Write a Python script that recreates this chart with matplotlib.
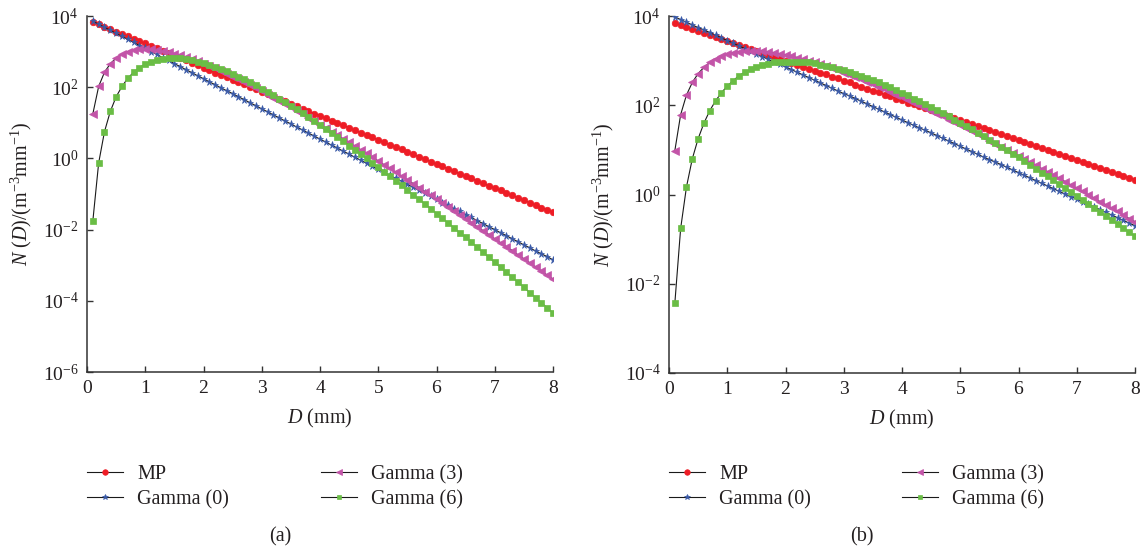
import numpy as np
import matplotlib
matplotlib.use("Agg")
import matplotlib.pyplot as plt

plt.rcParams['font.family'] = ['Liberation Serif', 'DejaVu Serif']
plt.rcParams['mathtext.fontset'] = 'custom'
plt.rcParams['mathtext.rm'] = 'Liberation Serif'
plt.rcParams['mathtext.it'] = 'Liberation Serif:italic'

# drop diameters (mm)
diam = [0.1, 0.2, 0.3, 0.4, 0.5, 0.6, 0.7, 0.8, 0.9, 1.0,
        1.1, 1.2, 1.3, 1.4, 1.5, 1.6, 1.7, 1.8, 1.9, 2.0,
        2.1, 2.2, 2.3, 2.4, 2.5, 2.6, 2.7, 2.8, 2.9, 3.0,
        3.1, 3.2, 3.3, 3.4, 3.5, 3.6, 3.7, 3.8, 3.9, 4.0,
        4.1, 4.2, 4.3, 4.4, 4.5, 4.6, 4.7, 4.8, 4.9, 5.0,
        5.1, 5.2, 5.3, 5.4, 5.5, 5.6, 5.7, 5.8, 5.9, 6.0,
        6.1, 6.2, 6.3, 6.4, 6.5, 6.6, 6.7, 6.8, 6.9, 7.0,
        7.1, 7.2, 7.3, 7.4, 7.5, 7.6, 7.7, 7.8, 7.9, 8.0]

# log10 N(D), panel (a)
mp_a = [3.84, 3.77, 3.70, 3.63, 3.56, 3.50, 3.43, 3.36, 3.29, 3.23,
        3.16, 3.09, 3.02, 2.96, 2.89, 2.82, 2.75, 2.69, 2.62, 2.55,
        2.48, 2.41, 2.35, 2.28, 2.21, 2.14, 2.08, 2.01, 1.94, 1.87,
        1.81, 1.74, 1.67, 1.60, 1.54, 1.47, 1.40, 1.33, 1.26, 1.20,
        1.13, 1.06, 0.99, 0.93, 0.86, 0.79, 0.72, 0.66, 0.59, 0.52,
        0.45, 0.39, 0.32, 0.25, 0.18, 0.11, 0.05, -0.02, -0.09, -0.16,
        -0.22, -0.29, -0.36, -0.43, -0.50, -0.56, -0.63, -0.70, -0.77, -0.83,
        -0.90, -0.97, -1.04, -1.10, -1.17, -1.24, -1.31, -1.38, -1.44, -1.51]
g0_a = [3.85, 3.77, 3.68, 3.60, 3.51, 3.43, 3.34, 3.26, 3.17, 3.09,
        3.00, 2.92, 2.83, 2.75, 2.66, 2.58, 2.49, 2.41, 2.32, 2.24,
        2.15, 2.07, 1.98, 1.90, 1.82, 1.73, 1.65, 1.56, 1.48, 1.39,
        1.31, 1.22, 1.14, 1.05, 0.97, 0.88, 0.80, 0.71, 0.63, 0.54,
        0.46, 0.37, 0.29, 0.20, 0.12, 0.03, -0.05, -0.14, -0.22, -0.31,
        -0.39, -0.48, -0.56, -0.64, -0.73, -0.81, -0.90, -0.98, -1.07, -1.15,
        -1.24, -1.32, -1.41, -1.49, -1.58, -1.66, -1.75, -1.83, -1.92, -2.00,
        -2.09, -2.17, -2.26, -2.34, -2.43, -2.51, -2.60, -2.68, -2.76, -2.85]
g3_a = [1.25, 2.02, 2.42, 2.66, 2.82, 2.93, 3.00, 3.04, 3.06, 3.07,
        3.06, 3.05, 3.02, 2.98, 2.94, 2.90, 2.84, 2.79, 2.73, 2.66,
        2.60, 2.53, 2.45, 2.38, 2.30, 2.22, 2.14, 2.05, 1.97, 1.88,
        1.79, 1.70, 1.61, 1.52, 1.43, 1.33, 1.24, 1.14, 1.04, 0.95,
        0.85, 0.75, 0.65, 0.55, 0.45, 0.34, 0.24, 0.14, 0.03, -0.07,
        -0.18, -0.28, -0.39, -0.50, -0.60, -0.71, -0.82, -0.93, -1.04, -1.15,
        -1.26, -1.37, -1.48, -1.59, -1.70, -1.81, -1.92, -2.03, -2.14, -2.26,
        -2.37, -2.48, -2.59, -2.71, -2.82, -2.93, -3.05, -3.16, -3.28, -3.39]
g6_a = [-1.76, -0.13, 0.75, 1.32, 1.73, 2.02, 2.25, 2.42, 2.55, 2.65,
        2.72, 2.77, 2.80, 2.81, 2.82, 2.81, 2.79, 2.76, 2.72, 2.68,
        2.63, 2.57, 2.51, 2.45, 2.37, 2.30, 2.22, 2.14, 2.05, 1.96,
        1.87, 1.78, 1.68, 1.58, 1.48, 1.38, 1.27, 1.16, 1.05, 0.94,
        0.83, 0.71, 0.60, 0.48, 0.36, 0.24, 0.12, 0.00, -0.13, -0.25,
        -0.37, -0.50, -0.63, -0.76, -0.89, -1.02, -1.15, -1.28, -1.41, -1.55,
        -1.68, -1.82, -1.95, -2.09, -2.22, -2.36, -2.50, -2.64, -2.78, -2.92,
        -3.06, -3.20, -3.34, -3.48, -3.62, -3.77, -3.91, -4.05, -4.20, -4.34]

# log10 N(D), panel (b)
mp_b = [3.84, 3.80, 3.75, 3.71, 3.66, 3.62, 3.57, 3.53, 3.48, 3.44,
        3.40, 3.35, 3.31, 3.26, 3.22, 3.17, 3.13, 3.09, 3.04, 3.00,
        2.95, 2.91, 2.86, 2.82, 2.77, 2.73, 2.69, 2.64, 2.60, 2.55,
        2.51, 2.46, 2.42, 2.37, 2.33, 2.29, 2.24, 2.20, 2.15, 2.11,
        2.06, 2.02, 1.98, 1.93, 1.89, 1.84, 1.80, 1.75, 1.71, 1.66,
        1.62, 1.58, 1.53, 1.49, 1.44, 1.40, 1.35, 1.31, 1.26, 1.22,
        1.18, 1.13, 1.09, 1.04, 1.00, 0.95, 0.91, 0.87, 0.82, 0.78,
        0.73, 0.69, 0.64, 0.60, 0.55, 0.51, 0.47, 0.42, 0.38, 0.33]
g0_b = [3.98, 3.92, 3.86, 3.80, 3.74, 3.69, 3.63, 3.57, 3.51, 3.45,
        3.39, 3.33, 3.27, 3.21, 3.15, 3.09, 3.03, 2.97, 2.92, 2.86,
        2.80, 2.74, 2.68, 2.62, 2.56, 2.50, 2.44, 2.38, 2.32, 2.26,
        2.21, 2.15, 2.09, 2.03, 1.97, 1.91, 1.85, 1.79, 1.73, 1.67,
        1.61, 1.55, 1.49, 1.44, 1.38, 1.32, 1.26, 1.20, 1.14, 1.08,
        1.02, 0.96, 0.90, 0.84, 0.78, 0.73, 0.67, 0.61, 0.55, 0.49,
        0.43, 0.37, 0.31, 0.25, 0.19, 0.13, 0.07, 0.01, -0.05, -0.10,
        -0.16, -0.22, -0.28, -0.34, -0.40, -0.46, -0.52, -0.58, -0.64, -0.70]
g3_b = [0.98, 1.79, 2.23, 2.51, 2.71, 2.85, 2.96, 3.04, 3.10, 3.15,
        3.18, 3.20, 3.21, 3.22, 3.21, 3.21, 3.19, 3.18, 3.15, 3.13,
        3.10, 3.07, 3.03, 3.00, 2.96, 2.92, 2.87, 2.83, 2.78, 2.73,
        2.68, 2.63, 2.58, 2.53, 2.47, 2.42, 2.36, 2.30, 2.24, 2.18,
        2.12, 2.06, 2.00, 1.94, 1.87, 1.81, 1.75, 1.68, 1.62, 1.55,
        1.48, 1.42, 1.35, 1.28, 1.21, 1.14, 1.07, 1.00, 0.93, 0.86,
        0.79, 0.72, 0.65, 0.58, 0.51, 0.43, 0.36, 0.29, 0.21, 0.14,
        0.07, -0.01, -0.08, -0.16, -0.23, -0.31, -0.38, -0.46, -0.54, -0.61]
g6_b = [-2.44, -0.76, 0.17, 0.80, 1.25, 1.60, 1.88, 2.10, 2.28, 2.43,
        2.55, 2.66, 2.74, 2.81, 2.86, 2.90, 2.93, 2.96, 2.97, 2.98,
        2.98, 2.98, 2.97, 2.96, 2.94, 2.91, 2.89, 2.86, 2.82, 2.78,
        2.74, 2.70, 2.66, 2.61, 2.56, 2.51, 2.45, 2.40, 2.34, 2.28,
        2.22, 2.15, 2.09, 2.03, 1.96, 1.89, 1.82, 1.75, 1.68, 1.61,
        1.53, 1.46, 1.38, 1.30, 1.23, 1.15, 1.07, 0.99, 0.91, 0.83,
        0.74, 0.66, 0.58, 0.49, 0.41, 0.32, 0.23, 0.15, 0.06, -0.03,
        -0.12, -0.21, -0.30, -0.39, -0.48, -0.57, -0.66, -0.75, -0.84, -0.94]

labels = ['MP', 'Gamma (0)', 'Gamma (3)', 'Gamma (6)']
colors = ['#ee1c25', '#3b5ba9', '#c354a8', '#6abd45']
markers = ['o', '*', '<', 's']
msizes = [4.7, 5.2, 5.3, 3.7]

W, H = 1142, 552
fig = plt.figure(figsize=(W / 100, H / 100), dpi=100)
ax_a = fig.add_axes([87 / W, 1 - 372 / H, 466 / W, 356 / H])
ax_b = fig.add_axes([669 / W, 1 - 373 / H, 466 / W, 357 / H])

panels = [(ax_a, [mp_a, g0_a, g3_a, g6_a], -6, 87, 321, 280, 'a'),
          (ax_b, [mp_b, g0_b, g3_b, g6_b], -4, 669, 902, 862, 'b')]

txt = '#231f20'
for ax, series, ymin_exp, leg_x1, leg_x2, cap_x, tag in panels:
    handles = []
    for vals, lab, c, m, ms in zip(series, labels, colors, markers, msizes):
        h, = ax.plot(diam, 10 ** np.array(vals), color='#1a1a1a', lw=0.8,
                     marker=m, ms=ms, mfc=c, mec=c, mew=0.5, label=lab)
        handles.append(h)
    ax.set_yscale('log')
    ax.set_xlim(0, 8)
    ax.set_ylim(10.0 ** ymin_exp, 1e4)
    exps = list(range(ymin_exp, 5, 2))
    ax.set_yticks([10.0 ** e for e in exps])
    ax.set_yticklabels([r'$10^{%d}$' % e for e in exps])
    ax.yaxis.set_minor_locator(matplotlib.ticker.NullLocator())
    ax.set_xticks(range(0, 9))
    for s in ['top', 'right']:
        ax.spines[s].set_visible(False)
    for s in ['left', 'bottom']:
        ax.spines[s].set_color('#333333')
        ax.spines[s].set_linewidth(1.1)
    ax.tick_params(direction='in', length=4, width=1, colors='#333333',
                   labelcolor=txt, labelsize=14, pad=6)
    ax.set_xlabel(r'$\mathit{D}$ (mm)', fontsize=14.5, color=txt, labelpad=7)
    ax.set_ylabel(r'$\mathit{N}\ (\mathit{D})/(\mathrm{m}^{-3}\mathrm{mm}^{-1})$',
                  fontsize=14.5, color=txt, labelpad=6)

    leg_kw = dict(loc='upper left', bbox_transform=fig.transFigure, frameon=False,
                  numpoints=1, handlelength=1.8, handletextpad=0.7,
                  labelspacing=0.3, fontsize=14.5, borderaxespad=0, borderpad=0,
                  markerscale=0.85, labelcolor=txt)
    leg1 = ax.legend(handles=handles[:2], bbox_to_anchor=(leg_x1 / W, 1 - 465 / H), **leg_kw)
    ax.add_artist(leg1)
    ax.legend(handles=handles[2:], bbox_to_anchor=(leg_x2 / W, 1 - 465 / H), **leg_kw)
    fig.text(cap_x / W, 1 - 537 / H, '(%s)' % tag, ha='center', va='center',
             fontsize=14.5, color=txt)

fig.savefig('out.png', dpi=100)
